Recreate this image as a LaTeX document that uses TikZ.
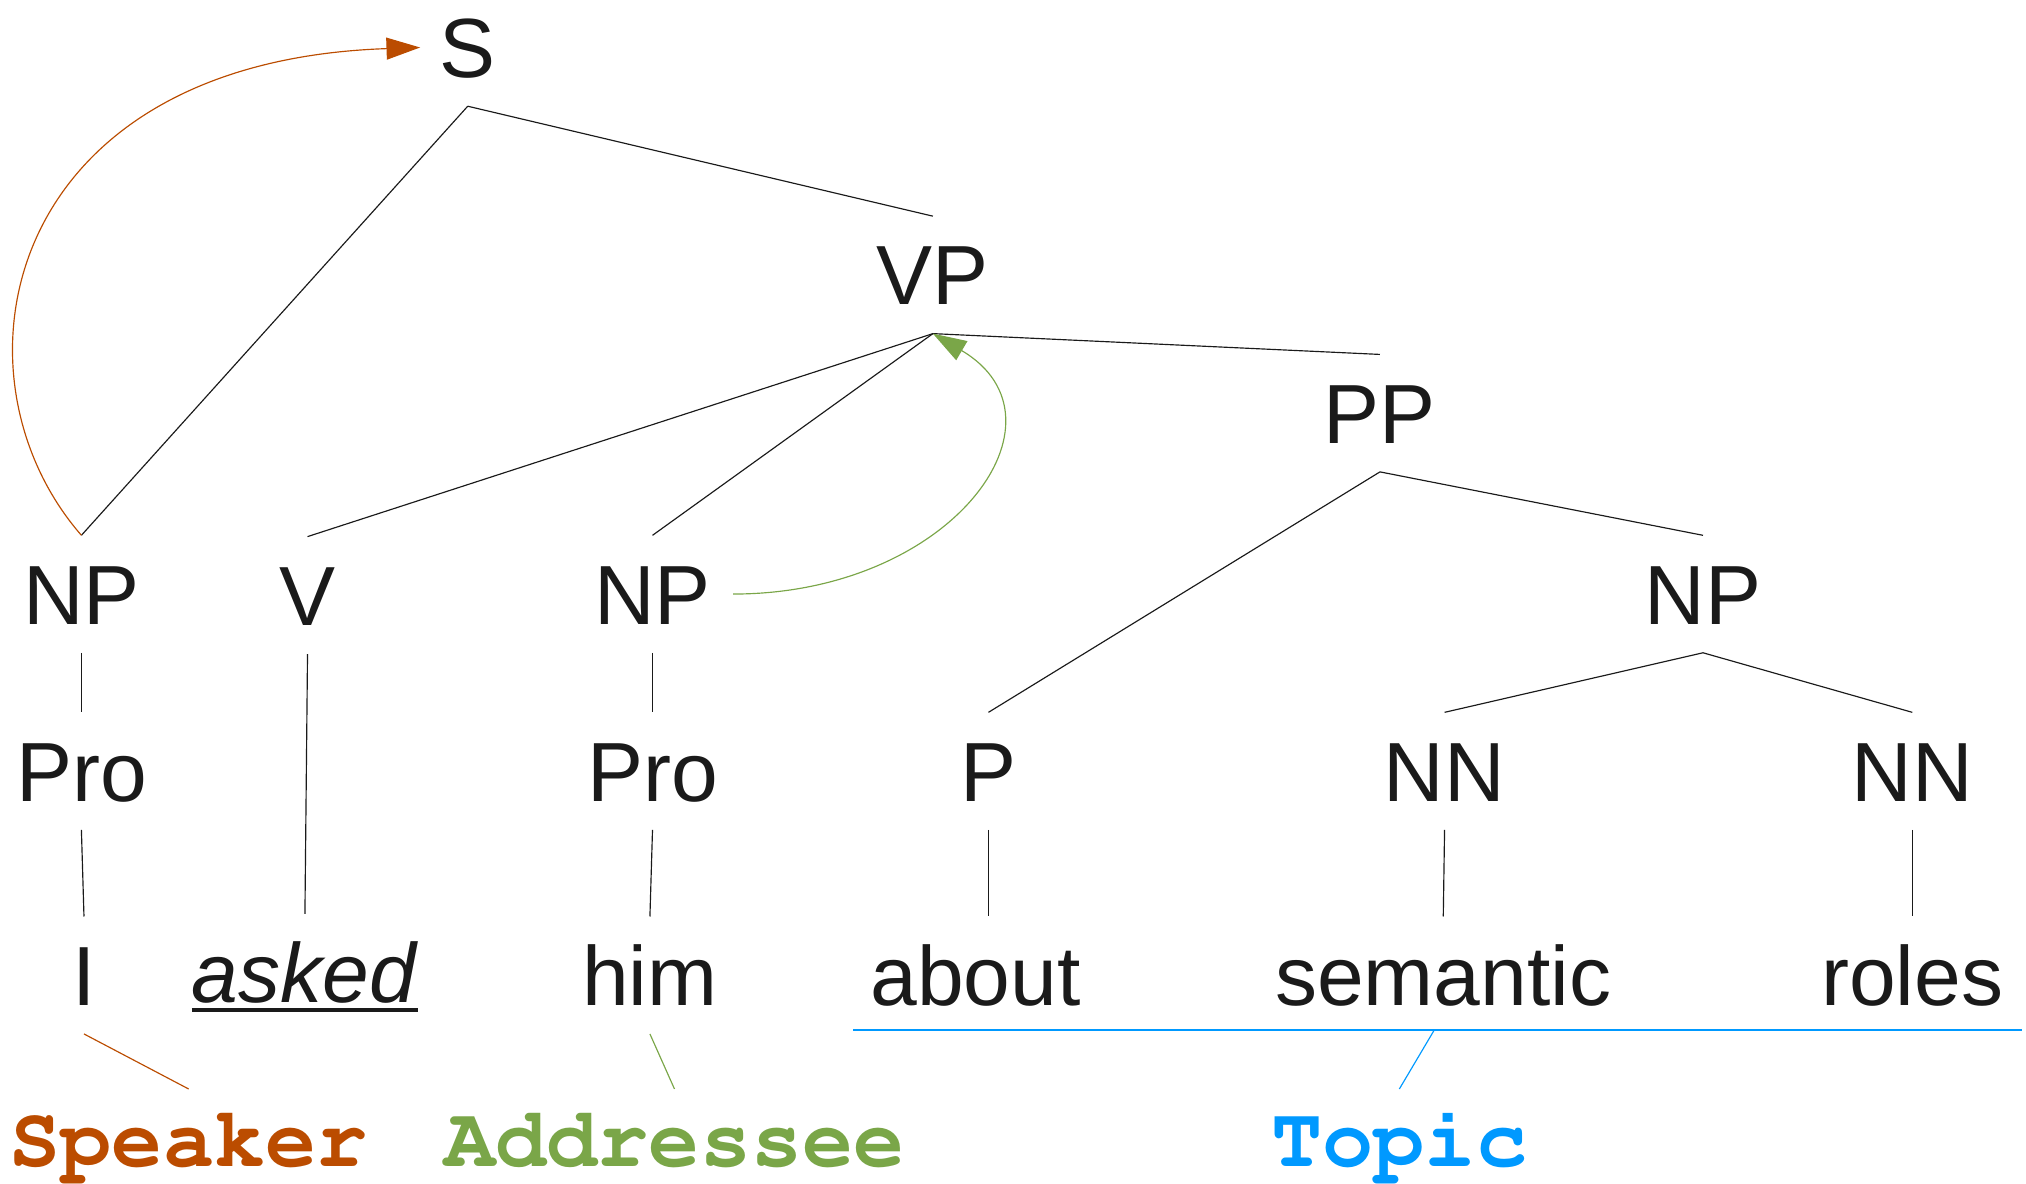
\documentclass[tikz,border=0pt]{standalone}
\usepackage{fontspec}
\setmainfont{Liberation Sans}
\usetikzlibrary{arrows.meta}
\definecolor{ink}{RGB}{26,26,26}
\definecolor{speakercol}{RGB}{187,76,0}
\definecolor{addrcol}{RGB}{122,166,72}
\definecolor{topiccol}{RGB}{0,153,255}
\newcommand\treefont{\fontsize{65}{78}\selectfont}
\newcommand\rolefont{\fontencoding{OT1}\fontfamily{pcr}\fontseries{b}\fontshape{n}\fontsize{66}{80}\selectfont}
\newcommand\underword[1]{\setbox0\hbox{#1}\rlap{\rule[-7.5pt]{\wd0}{3pt}}\box0}
\begin{document}
\begin{tikzpicture}[x=1pt,y=1pt,
    cat/.style={font=\treefont,text=ink,inner xsep=0pt,inner ysep=22pt,
      text height=46.5pt,text depth=0pt,anchor=base},
    role/.style={font=\rolefont,inner xsep=0pt,inner ysep=21pt,
      text height=39pt,text depth=0pt,anchor=base},
    tip/.style={-{Triangle[length=26pt,width=17pt]}}]
      \useasboundingbox (0,0) rectangle (1568,-916);
      \draw
        (362,-60) node[cat] (S){S}
        (722,-236) node[cat] (VP){VP}
        (1068,-343) node[cat] (PP){PP}
        (63,-483) node[cat] (NPa){NP}
        (238,-484) node[cat] (V){V}
        (505,-483) node[cat] (NPb){NP}
        (1318,-483) node[cat] (NPc){NP}
        (63,-620) node[cat] (Proa){Pro}
        (505,-620) node[cat] (Prob){Pro}
        (765,-620) node[cat] (P){P}
        (1118,-620) node[cat] (NNa){NN}
        (1480,-620) node[cat] (NNb){NN}
        (65,-778) node[cat] (I){I}
        (236,-776) node[cat] (asked){\underword{\textit{asked}}}
        (503,-778) node[cat] (him){him}
        (755,-778) node[cat] (about){about}
        (1117,-778) node[cat] (semantic){semantic}
        (1480,-778) node[cat] (roles){roles}
        (146,-903) node[role,text=speakercol] (spk){Speaker}
        (522,-903) node[role,text=addrcol] (adr){Addressee}
        (1083,-903) node[role,text=topiccol] (top){Topic};
      \begin{scope}[-,ink,line width=0.9pt]
        \draw (S.south) to (NPa.north);
        \draw (S.south) to (VP.north);
        \draw (VP.south) to (V.north);
        \draw (VP.south) to (NPb.north);
        \draw (VP.south) to (PP.north);
        \draw (PP.south) to (P.north);
        \draw (PP.south) to (NPc.north);
        \draw (NPc.south) to (NNa.north);
        \draw (NPc.south) to (NNb.north);
        \draw (NPa.south) to (Proa.north);
        \draw (Proa.south) to (I.north);
        \draw (V.south) to (asked.north);
        \draw (NPb.south) to (Prob.north);
        \draw (Prob.south) to (him.north);
        \draw (P.south) to ([xshift=10pt]about.north);
        \draw (NNa.south) to (semantic.north);
        \draw (NNb.south) to (roles.north);
      \end{scope}
      % roles
      \draw[speakercol,line width=0.9pt] (I.south) to (spk.north);
      \draw[addrcol,line width=0.9pt] (him.south) to (adr.north);
      \draw[topiccol,line width=1pt]
        ([xshift=-13pt,yshift=3pt]about.south west) to ([xshift=14pt,yshift=3pt]roles.south east);
      \draw[topiccol,line width=0.9pt] ([xshift=-7pt,yshift=3pt]semantic.south) to (top.north);
      % moves
      \draw[speakercol,line width=0.9pt,tip]
        (NPa.north) .. controls +(-108,124) and +(-325,-11) .. ([xshift=-15pt]S.west);
      \draw[addrcol,line width=0.9pt,tip]
        ([xshift=17pt]NPb.east) .. controls +(170,0) and +(112,-66) .. (VP.south);
    \end{tikzpicture}
\end{document}
